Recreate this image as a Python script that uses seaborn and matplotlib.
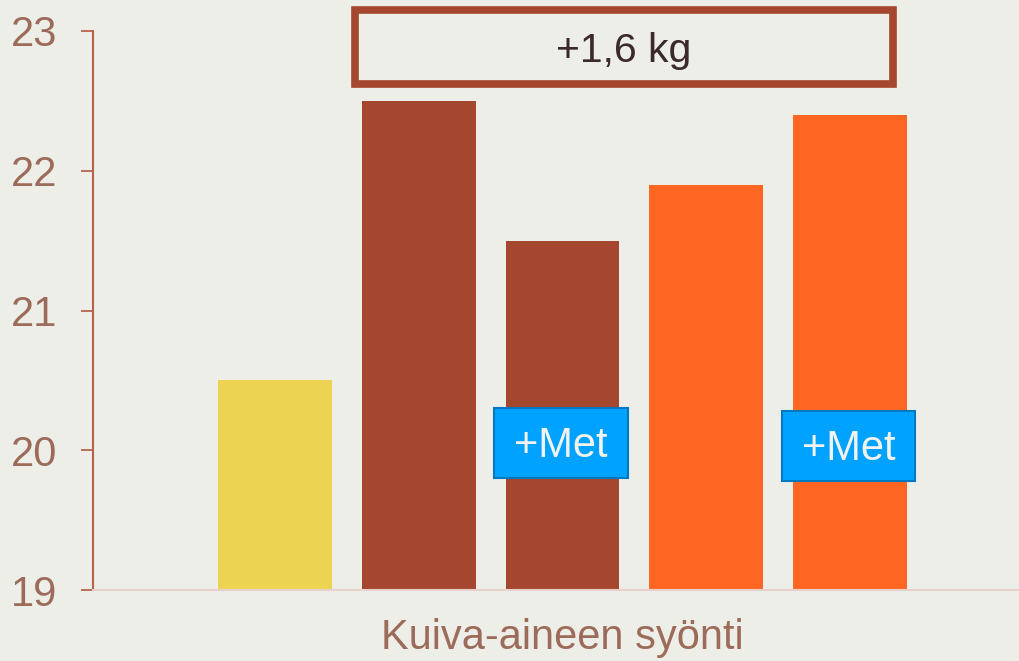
import matplotlib
matplotlib.use("Agg")
import matplotlib.pyplot as plt
import seaborn as sns
import pandas as pd
from matplotlib.patches import Rectangle

categories = ["Kontrolli", "Ryhmä A", "Ryhmä A +Met", "Ryhmä B", "Ryhmä B +Met"]
values = [20.5, 22.5, 21.5, 21.9, 22.4]
colors = ["#ECD452", "#A5472E", "#A5472E", "#FF6622", "#FF6622"]
yticks = [19, 20, 21, 22, 23]
xlabel = "Kuiva-aineen syönti"
diff_label = "+1,6 kg"
met_label = "+Met"
met_bars = [2, 4]

bg = "#EEEEE8"
tick_col = "#9C6B5A"

sns.set_theme(style="white")
plt.rcParams["font.family"] = ["Liberation Sans", "DejaVu Sans"]

df = pd.DataFrame({"cat": categories, "val": values})

fig = plt.figure(figsize=(10.2, 6.61), dpi=100, facecolor=bg)
ax = fig.add_axes([93 / 1020, 71 / 661, 927 / 1020, 559 / 661])
ax.set_facecolor(bg)

sns.barplot(data=df, x="cat", y="val", hue="cat", palette=colors, width=0.79,
            legend=False, ax=ax, saturation=1, edgecolor="none")

ax.set_ylim(19, 23)
ax.set_xlim(-1.266, 5.183)
ax.set_yticks(yticks)
ax.set_yticklabels([str(t) for t in yticks], fontsize=30, color=tick_col)
ax.set_xticks([])
ax.set_ylabel("")
ax.set_xlabel(xlabel, fontsize=30, color=tick_col)
ax.xaxis.set_label_coords((562 - 93) / 927, -0.05, transform=ax.transAxes)
ax.xaxis.label.set_verticalalignment("top")

for s in ["top", "right"]:
    ax.spines[s].set_visible(False)
ax.spines["left"].set_color("#B5634B")
ax.spines["left"].set_linewidth(1.5)
ax.spines["bottom"].set_color("#E8D0CC")
ax.spines["bottom"].set_linewidth(1.5)
ax.tick_params(axis="y", direction="out", length=9, width=1.3, color="#B5634B", pad=17, left=True)

# +1,6 kg box
ax.add_patch(Rectangle((0.557, 22.62), 4.30 - 0.557, 23.15 - 22.62, facecolor="none",
                       edgecolor="#A5472E", linewidth=5.5, clip_on=False, zorder=5))
ax.text((0.557 + 4.30) / 2, 22.86, diff_label, ha="center", va="center", fontsize=29.5,
        color="#3A2A2A", zorder=6, clip_on=False)

# +Met labels
met_y = [20.05, 20.03]
half_w = 0.466
half_h = 0.252
for i, yy in zip(met_bars, met_y):
    ax.add_patch(Rectangle((i - 0.01 - half_w, yy - half_h), 2 * half_w, 2 * half_h,
                           facecolor="#00A2FF", edgecolor="#0079C0", linewidth=1.5, zorder=5))
    ax.text(i - 0.01, yy - 0.02, met_label, ha="center", va="center", fontsize=30,
            color="#F2F2EE", zorder=6)

fig.savefig("out.png", dpi=100, facecolor=bg)
